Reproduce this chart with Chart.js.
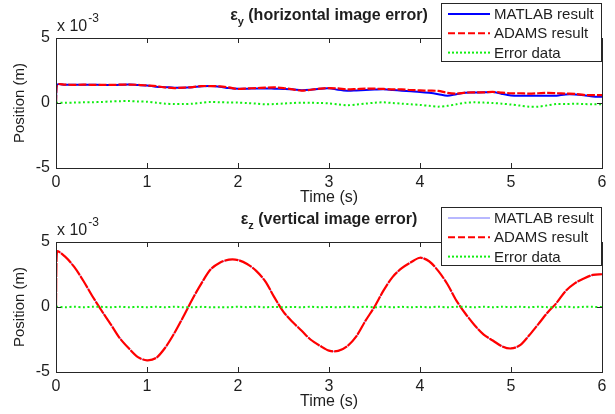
<!DOCTYPE html>
<html>
<head>
<meta charset="utf-8">
<script src="https://cdn.jsdelivr.net/npm/chart.js@4.4.1/dist/chart.umd.min.js"></script>
<style>
  body { margin: 0; background: #fff; }
  #wrap { position: relative; width: 615px; height: 414px; }
  canvas { position: absolute; left: 0; }
  #topChart { top: 0; }
  #bottomChart { top: 200px; }
</style>
</head>
<body>
<div id="wrap">
  <canvas id="topChart" width="615" height="210"></canvas>
  <canvas id="bottomChart" width="615" height="214"></canvas>
</div>
<script>
// time in s, positions in units of 1e-3 m
const time = [0, 0.01,
  0.1, 0.2, 0.3, 0.4, 0.5, 0.6, 0.7, 0.8, 0.9, 1.0,
  1.1, 1.2, 1.3, 1.4, 1.5, 1.6, 1.7, 1.8, 1.9, 2.0,
  2.1, 2.2, 2.3, 2.4, 2.5, 2.6, 2.7, 2.8, 2.9, 3.0,
  3.1, 3.2, 3.3, 3.4, 3.5, 3.6, 3.7, 3.8, 3.9, 4.0,
  4.1, 4.2, 4.3, 4.4, 4.5, 4.6, 4.7, 4.8, 4.9, 5.0,
  5.1, 5.2, 5.3, 5.4, 5.5, 5.6, 5.7, 5.8, 5.9, 6.0];

// horizontal image error (epsilon y)
const matlabY = [0, 1.40,
  1.40, 1.41, 1.40, 1.40, 1.39, 1.38, 1.40, 1.42, 1.38, 1.35,
  1.25, 1.22, 1.18, 1.18, 1.22, 1.28, 1.30, 1.25, 1.15, 1.10,
  1.10, 1.12, 1.12, 1.10, 1.08, 1.05, 0.98, 1.02, 1.10, 1.13,
  1.02, 0.95, 0.97, 1.00, 1.03, 1.05, 1.00, 0.95, 0.90, 0.85,
  0.78, 0.68, 0.56, 0.68, 0.79, 0.80, 0.82, 0.85, 0.70, 0.58,
  0.55, 0.55, 0.55, 0.55, 0.56, 0.66, 0.66, 0.60, 0.50, 0.48];
const adamsY = [0, 1.40,
  1.41, 1.40, 1.41, 1.40, 1.40, 1.39, 1.41, 1.42, 1.40, 1.35,
  1.30, 1.20, 1.15, 1.18, 1.22, 1.30, 1.30, 1.28, 1.20, 1.08,
  1.12, 1.15, 1.18, 1.20, 1.15, 1.05, 0.95, 1.02, 1.10, 1.15,
  1.12, 1.05, 1.07, 1.10, 1.10, 1.08, 1.05, 1.05, 1.00, 0.97,
  0.95, 0.93, 0.78, 0.72, 0.80, 0.82, 0.82, 0.85, 0.80, 0.75,
  0.75, 0.72, 0.75, 0.78, 0.75, 0.72, 0.70, 0.62, 0.60, 0.60];
const errorY = [0, 0.02,
  0.02, 0.03, 0.05, 0.06, 0.08, 0.12, 0.14, 0.15, 0.12, 0.10,
  0.02, -0.05, -0.08, -0.08, -0.05, 0.02, 0.08, 0.06, 0.04, 0.03,
  0.00, -0.05, -0.10, -0.08, -0.04, 0.00, 0.02, 0.02, 0.00, -0.03,
  -0.10, -0.17, -0.12, -0.05, 0.02, 0.05, 0.00, -0.05, -0.10, -0.15,
  -0.22, -0.28, -0.22, -0.10, 0.02, 0.05, 0.03, 0.00, -0.05, -0.12,
  -0.20, -0.28, -0.28, -0.18, -0.08, -0.08, -0.06, -0.08, -0.10, -0.10];

// vertical image error (epsilon z)
const matlabZ = [0, 4.27,
  3.85, 3.10, 2.00, 0.85, -0.26, -1.33, -2.37, -3.20, -3.85, -4.12,
  -3.90, -3.15, -2.00, -0.75, 0.60, 1.85, 2.88, 3.40, 3.62, 3.63,
  3.30, 2.80, 1.95, 0.75, -0.40, -1.15, -1.85, -2.50, -3.00, -3.35,
  -3.40, -3.00, -2.28, -1.05, 0.00, 1.30, 2.30, 3.00, 3.42, 3.80,
  3.50, 2.80, 1.75, 0.50, -0.50, -1.42, -2.10, -2.60, -3.00, -3.20,
  -2.92, -2.20, -1.30, -0.45, 0.30, 1.25, 1.80, 2.20, 2.45, 2.53];
const adamsZ = [0, 4.25,
  3.87, 3.08, 2.02, 0.83, -0.27, -1.31, -2.39, -3.18, -3.86, -4.10,
  -3.92, -3.13, -2.02, -0.73, 0.62, 1.84, 2.90, 3.41, 3.64, 3.61,
  3.31, 2.78, 1.97, 0.74, -0.38, -1.16, -1.83, -2.52, -2.98, -3.36,
  -3.38, -3.02, -2.26, -1.07, 0.02, 1.28, 2.32, 2.99, 3.44, 3.79,
  3.52, 2.78, 1.77, 0.49, -0.52, -1.40, -2.12, -2.58, -3.02, -3.19,
  -2.94, -2.18, -1.32, -0.44, 0.31, 1.23, 1.82, 2.19, 2.47, 2.52];
const errorZ = [0, 0.02,
  -0.02, 0.02, -0.02, 0.02, 0.01, -0.02, 0.02, -0.02, 0.01, -0.02,
  0.02, -0.02, 0.02, -0.02, -0.02, 0.01, -0.02, -0.01, -0.02, 0.02,
  -0.01, 0.02, -0.02, 0.01, -0.02, 0.01, -0.02, 0.02, -0.02, 0.01,
  -0.02, 0.02, -0.02, 0.02, -0.02, 0.02, -0.02, 0.01, -0.02, 0.01,
  -0.02, 0.02, -0.02, 0.01, 0.02, -0.02, 0.02, -0.02, 0.02, -0.01,
  0.02, -0.02, 0.02, -0.01, -0.02, 0.02, -0.02, 0.01, 0.01, 0.00];

const seriesNames = ['MATLAB result', 'ADAMS result', 'Error data'];
const xTicks = [0, 1, 2, 3, 4, 5, 6];
const yTicks = [-5, 0, 5];

const FONT = '"Liberation Sans", Arial, sans-serif';
const INK = '#1e1e1e';

function pts(values) {
  return time.map((t, i) => ({ x: t, y: values[i] }));
}

// MATLAB-like frame: box, inward ticks, title with subscript, exponent, boxed legend
const matlabFrame = {
  id: 'matlabFrame',
  afterDraw(chart, args, opts) {
    const { ctx, chartArea: a, scales } = chart;
    ctx.save();
    ctx.strokeStyle = '#262626';
    ctx.lineWidth = 1;
    ctx.strokeRect(a.left + 0.5, a.top + 0.5, a.right - a.left, a.bottom - a.top);
    ctx.beginPath();
    xTicks.forEach(v => {
      const px = Math.round(scales.x.getPixelForValue(v)) + 0.5;
      ctx.moveTo(px, a.top); ctx.lineTo(px, a.top + 5);
      ctx.moveTo(px, a.bottom); ctx.lineTo(px, a.bottom - 5);
    });
    yTicks.forEach(v => {
      const py = Math.round(scales.y.getPixelForValue(v)) + 0.5;
      ctx.moveTo(a.left, py); ctx.lineTo(a.left + 5, py);
      ctx.moveTo(a.right, py); ctx.lineTo(a.right - 5, py);
    });
    ctx.stroke();

    // title
    ctx.fillStyle = INK;
    ctx.textBaseline = 'alphabetic';
    ctx.textAlign = 'left';
    const big = 'bold 16px ' + FONT, small = 'bold 11px ' + FONT;
    ctx.font = big;
    const w1 = ctx.measureText(opts.symbol).width;
    const w3 = ctx.measureText(opts.title).width;
    ctx.font = small;
    const w2 = ctx.measureText(opts.sub).width;
    let tx = (a.left + a.right) / 2 - (w1 + w2 + w3) / 2;
    const ty = a.top - 18;
    ctx.font = big; ctx.fillText(opts.symbol, tx, ty); tx += w1;
    ctx.font = small; ctx.fillText(opts.sub, tx, ty + 5); tx += w2;
    ctx.font = big; ctx.fillText(opts.title, tx, ty);

    // exponent
    ctx.font = '16px ' + FONT;
    ctx.fillText('x 10', a.left + 1, a.top - 7);
    const we = ctx.measureText('x 10').width;
    ctx.font = '12px ' + FONT;
    ctx.fillText('-3', a.left + 2 + we, a.top - 16);

    // legend
    const lx = a.right - 161, ly = a.top - 35, lw = 161, lh = 59;
    ctx.fillStyle = '#fff';
    ctx.fillRect(lx, ly, lw, lh);
    ctx.strokeStyle = '#262626';
    ctx.strokeRect(lx + 0.5, ly + 0.5, lw - 1, lh - 1);
    ctx.font = '15px ' + FONT;
    ctx.textBaseline = 'middle';
    chart.data.datasets.forEach((ds, i) => {
      const ry = ly + 11 + i * 19.3;
      ctx.save();
      ctx.strokeStyle = ds.borderColor;
      ctx.lineWidth = ds.legendWidth || ds.borderWidth;
      ctx.setLineDash(ds.legendDash || []);
      ctx.beginPath();
      ctx.moveTo(lx + 7, ry); ctx.lineTo(lx + 49, ry);
      ctx.stroke();
      ctx.restore();
      ctx.fillStyle = INK;
      ctx.fillText(ds.label, lx + 53, ry + 1);
    });
    ctx.restore();
  }
};

function makeChart(id, matlab, adams, err, sub, title, padTop, blue, redDash) {
  return new Chart(document.getElementById(id), {
    type: 'line',
    data: {
      datasets: [
        { label: seriesNames[0], data: pts(matlab), order: 3, borderColor: blue.color, borderWidth: blue.width, legendDash: [] },
        { label: seriesNames[1], data: pts(adams), order: 2, borderColor: '#ff0000', borderWidth: 2.2, borderDash: redDash, legendDash: [7, 3], legendWidth: 2 },
        { label: seriesNames[2], data: pts(err), order: 1, borderColor: '#11ee11', borderWidth: 2, borderDash: [2, 2.5], legendDash: [2, 2] }
      ]
    },
    options: {
      responsive: false,
      animation: false,
      devicePixelRatio: 1,
      layout: { padding: { top: padTop, right: 13, left: 0, bottom: 0 } },
      elements: { point: { radius: 0 }, line: { tension: 0.3 } },
      plugins: {
        legend: { display: false },
        tooltip: { enabled: false },
        matlabFrame: { symbol: 'ε', sub: sub, title: title }
      },
      scales: {
        x: {
          type: 'linear', min: 0, max: 6,
          afterFit: s => { s.height = 42; },
          afterBuildTicks: s => { s.ticks = xTicks.map(v => ({ value: v })); },
          grid: { display: false, drawTicks: false },
          border: { display: false },
          ticks: { padding: 5, color: INK, font: { family: FONT, size: 16 } },
          title: { display: true, text: 'Time (s)', color: INK, padding: { top: 0, bottom: 3 }, font: { family: FONT, size: 16 } }
        },
        y: {
          min: -5, max: 5,
          afterFit: s => { s.width = 56; },
          afterBuildTicks: s => { s.ticks = yTicks.map(v => ({ value: v })); },
          grid: { display: false, drawTicks: false },
          border: { display: false },
          ticks: { padding: 6, color: INK, font: { family: FONT, size: 16 } },
          title: { display: true, text: 'Position (m)', color: INK, padding: { top: 11, bottom: 0 }, font: { family: FONT, size: 15 } }
        }
      }
    },
    plugins: [matlabFrame]
  });
}

makeChart('topChart', matlabY, adamsY, errorY, 'y', ' (horizontal image error)', 38, { color: '#0000ff', width: 2 }, [8, 2]);
makeChart('bottomChart', matlabZ, adamsZ, errorZ, 'z', ' (vertical image error)', 42, { color: '#7070ff', width: 1 }, [14, 1]);
</script>
</body>
</html>
